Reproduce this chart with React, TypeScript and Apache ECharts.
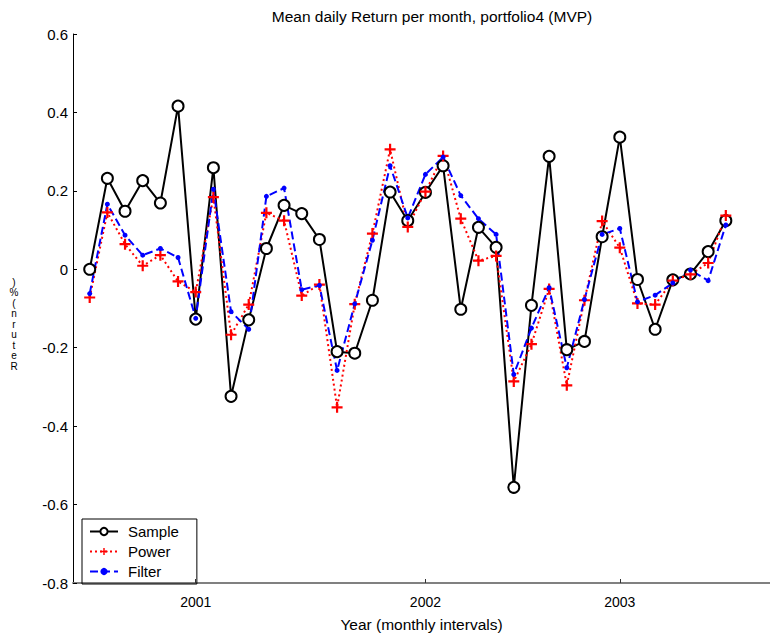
import React, { useEffect, useRef } from "react";
import * as echarts from "echarts";

const months: number[] = Array.from({ length: 37 }, (_, i) => i);
const yearTickIdx = [6, 19, 30];
const yearLabels = ["2001", "2002", "2003"];

const sample = [0.0, 0.232, 0.148, 0.226, 0.169, 0.416, -0.127, 0.259, -0.324, -0.129, 0.053, 0.163, 0.142, 0.076, -0.21, -0.214, -0.079, 0.197, 0.124, 0.196, 0.264, -0.102, 0.107, 0.056, -0.556, -0.092, 0.288, -0.205, -0.184, 0.083, 0.337, -0.026, -0.153, -0.027, -0.012, 0.045, 0.124];
const power = [-0.072, 0.145, 0.064, 0.009, 0.036, -0.031, -0.058, 0.184, -0.167, -0.09, 0.144, 0.124, -0.067, -0.039, -0.352, -0.089, 0.091, 0.306, 0.108, 0.198, 0.289, 0.129, 0.022, 0.034, -0.286, -0.191, -0.05, -0.296, -0.079, 0.123, 0.055, -0.087, -0.09, -0.029, -0.013, 0.016, 0.137];
const filter = [-0.062, 0.166, 0.087, 0.036, 0.053, 0.03, -0.125, 0.204, -0.108, -0.153, 0.186, 0.207, -0.052, -0.041, -0.258, -0.088, 0.074, 0.264, 0.131, 0.242, 0.286, 0.188, 0.129, 0.089, -0.268, -0.15, -0.047, -0.251, -0.077, 0.089, 0.104, -0.083, -0.066, -0.035, -0.002, -0.029, 0.113];

const yAxisTitle = "Return (%)";

const FONT = "Liberation Sans, Arial, sans-serif";
const plus = "path://M4,0 L6,0 L6,4 L10,4 L10,6 L6,6 L6,10 L4,10 L4,6 L0,6 L0,4 L4,4 Z";

export default function App() {
  const ref = useRef<HTMLDivElement>(null);
  useEffect(() => {
    const chart = echarts.init(ref.current!, null, { renderer: "svg" });
    const pts = (arr: number[]) => months.map((m, i) => [m, arr[i]]);
    const stacked = yAxisTitle
      .split("")
      .filter((c) => c !== " ")
      .reverse()
      .join("\n");
    const graphics: any[] = [
      {
        type: "text",
        x: 432,
        y: 16,
        style: {
          text: "Mean daily Return per month, portfolio4 (MVP)",
          fontFamily: FONT,
          fontSize: 15.5,
          fill: "#000",
          textAlign: "center",
          textVerticalAlign: "middle",
        },
      },
      {
        type: "text",
        x: 14,
        y: 324,
        style: {
          text: stacked,
          fontFamily: FONT,
          fontSize: 10,
          lineHeight: 10.5,
          fill: "#000",
          textAlign: "center",
          textVerticalAlign: "middle",
        },
      },
    ];
    chart.setOption({
      animation: false,
      backgroundColor: "#fff",
      grid: { left: 73, right: 0, top: 34, bottom: 45 },
      graphic: graphics,
      legend: {
        left: 82,
        top: 519,
        orient: "vertical",
        data: ["Sample", "Power", "Filter"],
        borderColor: "#000",
        borderWidth: 1,
        padding: [5, 18, 5, 7],
        itemWidth: 28,
        itemHeight: 9,
        itemGap: 5,
        textStyle: { fontFamily: FONT, fontSize: 15, color: "#000", padding: [0, 0, 0, 5] },
      },
      xAxis: {
        type: "value",
        min: -0.945,
        max: 38.5,
        name: "Year (monthly intervals)",
        nameLocation: "middle",
        nameGap: 33,
        nameTextStyle: { fontFamily: FONT, fontSize: 15.5, color: "#000" },
        splitLine: { show: false },
        axisLine: { onZero: false, lineStyle: { color: "#808080", width: 2 } },
        axisTick: { inside: true, length: 4, lineStyle: { color: "#333" }, customValues: yearTickIdx },
        axisLabel: {
          customValues: yearTickIdx,
          margin: 12,
          fontFamily: FONT,
          fontSize: 14,
          color: "#000",
          formatter: (v: number) => {
            const k = yearTickIdx.indexOf(Math.round(v));
            return k >= 0 ? yearLabels[k] : "";
          },
        },
      },
      yAxis: {
        type: "value",
        min: -0.8,
        max: 0.6,
        interval: 0.2,
        splitLine: { show: false },
        axisLine: { show: true, onZero: false, lineStyle: { color: "#000", width: 1 } },
        axisTick: { show: true, inside: true, length: 4, lineStyle: { color: "#000" } },
        axisLabel: {
          margin: 5,
          fontFamily: FONT,
          fontSize: 15,
          color: "#000",
          formatter: (v: number) => {
            const r = Math.round(v * 10) / 10;
            return r === 0 ? "0" : r.toFixed(1);
          },
        },
      },
      series: [
        {
          name: "Sample",
          type: "line",
          data: pts(sample),
          symbol: "emptyCircle",
          symbolSize: 11,
          color: "#000",
          lineStyle: { color: "#000", width: 2, type: "solid" },
          itemStyle: { color: "#000", borderColor: "#000", borderWidth: 2 },
        },
        {
          name: "Power",
          type: "line",
          data: pts(power),
          symbol: plus,
          symbolSize: 11,
          color: "#ff0000",
          lineStyle: { color: "#ff0000", width: 2, type: [2, 3] },
          itemStyle: { color: "#ff0000" },
        },
        {
          name: "Filter",
          type: "line",
          data: pts(filter),
          symbol: "circle",
          symbolSize: 5,
          color: "#0000ff",
          lineStyle: { color: "#0000ff", width: 2, type: [8, 4] },
          itemStyle: { color: "#0000ff" },
        },
      ],
    });
    return () => chart.dispose();
  }, []);
  return (
    <div
      ref={ref}
      style={{ position: "fixed", left: 0, top: 0, width: 770, height: 637, background: "#fff" }}
    />
  );
}
